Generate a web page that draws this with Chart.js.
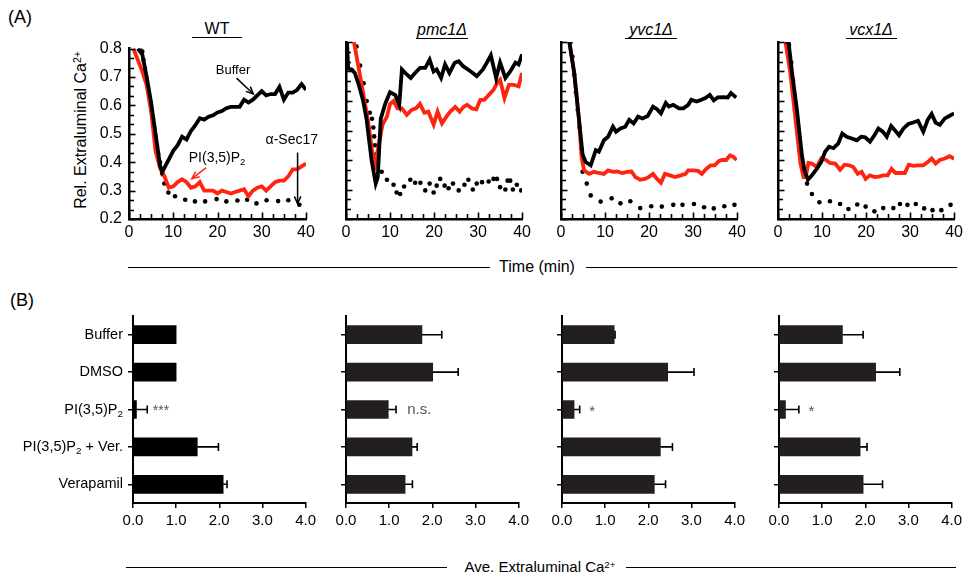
<!DOCTYPE html>
<html><head><meta charset="utf-8">
<script src="https://cdn.jsdelivr.net/npm/chart.js@4.4.0/dist/chart.umd.min.js"></script>
<style>
body{margin:0;background:#fff;}
#wrap{position:relative;width:967px;height:583px;overflow:hidden;font-family:"Liberation Sans",Arial,sans-serif;color:#000;background:#fff;}
canvas{position:absolute;}
.t{position:absolute;white-space:nowrap;line-height:1;}
.hl{position:absolute;height:0;border-top:1.5px solid #000;}
sup{font-size:0.65em;vertical-align:0.45em;line-height:0;}
</style></head><body><div id="wrap">
<div class="t" style="left:8px;top:8px;font-size:18px;">(A)</div>
<div class="t" style="left:10px;top:291px;font-size:18px;">(B)</div>
<div class="t" style="left:81px;top:130px;font-size:16px;transform:translate(-50%,-50%) rotate(-90deg);">Rel. Extraluminal Ca<sup>2+</sup></div>
<div class="t" style="left:217px;top:21px;font-size:16px;transform:translateX(-50%);">WT</div>
<div class="hl" style="left:192px;top:37px;width:50px;"></div>
<div class="t" style="left:442px;top:22px;font-size:16px;font-style:italic;transform:translateX(-50%);">pmc1Δ</div>
<div class="hl" style="left:416px;top:38px;width:52px;"></div>
<div class="t" style="left:651px;top:22px;font-size:16px;font-style:italic;transform:translateX(-50%);">yvc1Δ</div>
<div class="hl" style="left:625px;top:38px;width:52px;"></div>
<div class="t" style="left:871px;top:22px;font-size:16px;font-style:italic;transform:translateX(-50%);">vcx1Δ</div>
<div class="hl" style="left:846px;top:38px;width:51px;"></div>
<div class="hl" style="left:128px;top:267px;width:362px;border-top-width:1px;"></div>
<div class="t" style="left:537px;top:259px;font-size:16px;transform:translateX(-50%);">Time (min)</div>
<div class="hl" style="left:586px;top:267px;width:371px;border-top-width:1px;"></div>
<div class="hl" style="left:126px;top:567px;width:321px;border-top-width:1px;"></div>
<div class="t" style="left:540px;top:559px;font-size:15px;transform:translateX(-50%);">Ave. Extraluminal Ca<sup>2+</sup></div>
<div class="hl" style="left:626px;top:567px;width:330px;border-top-width:1px;"></div>
</div>
<script>
// ---------------- DATA ----------------
// (A) time courses: times (min) and relative extraluminal Ca2+
const wtBufferT = [2,3,4,5,6,7,7.5,8,9,10,11,12,13,14,15,16,17,18,19,20,21,22,23,24,25,26,27,28,29,30,31,32,33,34,35,36,37,38,39,40];
const wtBufferV = [0.80,0.78,0.70,0.61,0.50,0.39,0.365,0.38,0.41,0.44,0.46,0.49,0.48,0.51,0.53,0.555,0.55,0.56,0.565,0.575,0.58,0.59,0.595,0.595,0.595,0.62,0.61,0.62,0.635,0.65,0.635,0.64,0.64,0.665,0.62,0.645,0.645,0.655,0.675,0.655];
const wtPIT = [1,2,3,4,5,6,7,8,9,10,11,12,13,14,15,16,17,18,19,20,21,22,23,24,25,26,27,28,29,30,31,32,33,34,35,36,37,38,39,40];
const wtPIV = [0.80,0.76,0.72,0.67,0.58,0.44,0.38,0.35,0.31,0.315,0.33,0.34,0.33,0.31,0.315,0.33,0.30,0.30,0.30,0.29,0.30,0.295,0.29,0.295,0.30,0.305,0.28,0.30,0.31,0.315,0.30,0.315,0.33,0.335,0.335,0.35,0.375,0.375,0.385,0.395];
const wtSecT = [2.5,3.0,3.3,3.6,3.9,4.2,4.5,4.8,5.1,5.4,5.7,6.0,6.3,6.6,7.0,7.5,8.0,8.9,10.4,12.7,14.9,17.2,19.8,22.0,24.5,26.7,28.8,31.1,33.7,36.0,38.5];
const wtSecV = [0.80,0.79,0.76,0.73,0.70,0.67,0.64,0.61,0.58,0.55,0.52,0.49,0.46,0.43,0.40,0.36,0.325,0.293,0.28,0.268,0.262,0.262,0.27,0.262,0.265,0.268,0.255,0.266,0.263,0.266,0.25];

const pmcBufferT = [0.2,0.5,1.3,2,2.8,3.9,4.7,5.8,6.75,7.2,7.9,8.9,10,11.2,12.1,12.7,13.8,14.7,15.7,16.8,18,19,19.9,20.6,21.6,22.5,23.5,24.7,25.6,26.6,27.7,28.8,29.7,31.1,32,32.9,34.1,35,36.2,37.3,38.5,39.2,40];
const pmcBufferV = [0.81,0.71,0.707,0.695,0.66,0.60,0.535,0.40,0.32,0.34,0.54,0.59,0.63,0.62,0.587,0.707,0.69,0.678,0.695,0.712,0.712,0.74,0.70,0.707,0.678,0.724,0.695,0.73,0.735,0.718,0.707,0.695,0.684,0.707,0.73,0.755,0.678,0.73,0.678,0.70,0.73,0.724,0.758];
const pmcPIT = [1.8,2.8,3.9,5.1,6.2,6.6,8.3,9.3,10,10.8,11.7,12.7,13.8,14.9,15.9,16.8,17.8,18.7,19.9,20.8,21.8,22.8,23.7,24.8,25.8,26.7,27.5,28.6,29.6,30.5,31.4,32.4,33.5,34.3,35,36,37,38.1,39.2,40];
const pmcPIV = [0.80,0.718,0.627,0.524,0.40,0.385,0.52,0.547,0.59,0.60,0.575,0.575,0.553,0.57,0.575,0.59,0.56,0.564,0.52,0.564,0.524,0.547,0.564,0.58,0.564,0.58,0.587,0.575,0.572,0.604,0.604,0.62,0.638,0.66,0.672,0.61,0.655,0.655,0.65,0.695];
const pmcSecT = [2.4,3.2,4.0,4.7,5.4,5.9,6.2,6.4,6.6,6.9,7.2,8.1,9.3,10.8,11.5,12.3,13.2,14.6,15.7,16.9,18.0,19.0,19.9,20.6,21.4,22.4,23.3,24.3,25.6,26.9,27.8,28.8,29.7,30.9,32.4,33.5,34.3,35.0,36.2,36.7,37.3,37.9,38.8,39.8];
const pmcSecV = [0.785,0.72,0.66,0.60,0.56,0.54,0.51,0.48,0.45,0.42,0.388,0.36,0.333,0.316,0.29,0.285,0.31,0.333,0.323,0.323,0.297,0.32,0.29,0.313,0.336,0.313,0.304,0.32,0.297,0.316,0.333,0.30,0.32,0.325,0.327,0.336,0.336,0.308,0.30,0.33,0.33,0.30,0.316,0.297];

const yvcBufferT = [1.9,3,4.1,4.9,5.6,6.75,7.9,8.6,9.75,10.7,11.8,12.5,13.5,14.6,15.5,16.5,17.5,18.5,19.7,20.9,21.8,22.7,23.8,24.5,25.5,26.8,27.8,28.9,29.6,30.8,31.9,32.8,33.8,34.7,35.6,36.8,37.9,38.6,39.8];
const yvcBufferV = [0.80,0.695,0.535,0.42,0.393,0.382,0.433,0.428,0.467,0.479,0.513,0.496,0.507,0.513,0.536,0.524,0.547,0.541,0.549,0.581,0.572,0.558,0.593,0.581,0.587,0.575,0.575,0.587,0.604,0.598,0.604,0.61,0.621,0.602,0.612,0.613,0.612,0.627,0.612];
const yvcPIT = [1.9,3,4.1,4.7,5.25,6.4,7.5,8.6,9.75,10.7,11.8,12.75,13.9,15,16,16.9,18,19,19.9,20.9,21.8,22.7,23.6,24.75,25.9,27.2,28.3,28.9,30,31.1,32,33,34,34.9,35.9,36.6,37.5,38.4,39.2,39.9];
const yvcPIV = [0.80,0.695,0.535,0.405,0.365,0.353,0.36,0.356,0.353,0.365,0.36,0.361,0.356,0.36,0.361,0.342,0.333,0.336,0.342,0.353,0.336,0.323,0.353,0.348,0.342,0.348,0.353,0.365,0.365,0.363,0.353,0.37,0.382,0.382,0.397,0.40,0.40,0.416,0.41,0.40];
const yvcSecT = [2.2,2.6,3.0,3.4,3.8,4.2,4.6,4.9,5.85,6.75,9.0,11.5,13.5,15.75,18.0,20.5,22.9,25.5,27.6,30.2,32.5,34.7,37.1,39.4];
const yvcSecV = [0.80,0.75,0.69,0.63,0.57,0.51,0.44,0.36,0.32,0.28,0.259,0.27,0.253,0.26,0.237,0.243,0.242,0.248,0.248,0.251,0.24,0.236,0.243,0.248];

const vcxBufferT = [1.7,2.4,3.2,4.3,5.4,6,6.8,7.7,8.8,9.8,10.7,11.6,12.6,13.7,14.6,15.6,16.75,17.9,18.9,19.8,20.9,21.9,22.8,23.8,24.7,25.7,26.6,27.5,28.5,29.6,30.7,31.8,33,34,34.9,35.8,36.75,37.9,38.9,40];
const vcxBufferV = [0.80,0.80,0.695,0.57,0.42,0.365,0.333,0.348,0.37,0.393,0.428,0.445,0.44,0.456,0.49,0.479,0.473,0.467,0.479,0.477,0.462,0.484,0.507,0.496,0.479,0.515,0.50,0.484,0.507,0.522,0.527,0.533,0.496,0.536,0.556,0.527,0.519,0.541,0.549,0.558];
const vcxPIT = [1.7,2.8,3.9,5.1,5.8,6.3,6.9,7.7,8.8,9.8,10.9,11.8,13,14.1,15.1,16.2,17.1,18.1,19,19.9,20.9,21.9,22.9,23.9,24.9,25.8,26.7,27.9,28.8,29.7,30.7,31.8,33,34,34.9,35.8,36.75,37.9,39,40];
const vcxPIV = [0.80,0.695,0.547,0.388,0.342,0.342,0.39,0.388,0.376,0.405,0.40,0.39,0.388,0.367,0.384,0.382,0.376,0.353,0.36,0.336,0.348,0.342,0.344,0.348,0.348,0.37,0.356,0.356,0.356,0.384,0.38,0.382,0.382,0.393,0.405,0.388,0.40,0.405,0.413,0.404];
const vcxSecT = [2.5,3.0,3.4,3.8,4.2,4.6,5.0,5.5,6.6,7.7,9.4,11.8,14.1,16.0,18.0,19.9,21.9,23.9,26.2,27.7,29.4,31.3,33.2,35.1,37.1,39.2];
const vcxSecV = [0.79,0.73,0.67,0.61,0.55,0.49,0.43,0.38,0.32,0.285,0.257,0.26,0.251,0.234,0.249,0.242,0.226,0.237,0.237,0.251,0.248,0.251,0.236,0.23,0.23,0.248];

const timeTicks = [0,10,20,30,40];
const relTicks = [0.2,0.3,0.4,0.5,0.6,0.7,0.8];

// (B) averages
const barCats = ['Buffer','DMSO','PI(3,5)P_2','PI(3,5)P_2 + Ver.','Verapamil'];
const aveTicks = [0,1,2,3,4];
const wtMean  = [1.00, 1.00, 0.08, 1.49, 2.09];
const wtErr   = [0, 0, 0.25, 0.49, 0.09];
const pmcMean = [1.76, 2.01, 0.98, 1.53, 1.37];
const pmcErr  = [0.46, 0.59, 0.18, 0.12, 0.17];
const yvcMean = [1.21, 2.45, 0.28, 2.28, 2.14];
const yvcErr  = [0.02, 0.61, 0.13, 0.28, 0.26];
const vcxMean = [1.47, 2.24, 0.15, 1.88, 1.95];
const vcxErr  = [0.48, 0.56, 0.31, 0.16, 0.45];
const sigMarks = ['***','n.s.','*','*'];

// ---------------- DRAWING ----------------
const FONT = '"Liberation Sans", Arial, sans-serif';
Chart.defaults.font.family = FONT;
Chart.defaults.color = '#000';
const RED = '#ff2410';
const wrap = document.getElementById('wrap');

function richParts(s){
  const out=[]; const re=/_(\w)/g; let last=0, m;
  while((m=re.exec(s))){ if(m.index>last) out.push({t:s.slice(last,m.index)}); out.push({t:m[1],sub:true}); last=re.lastIndex; }
  if(last<s.length) out.push({t:s.slice(last)});
  return out;
}
function drawRich(ctx, s, x, y, align, size, color){
  const parts=richParts(s); ctx.save(); ctx.fillStyle=color||'#000'; ctx.textBaseline='middle'; ctx.textAlign='left';
  const f=n=>n+'px '+FONT;
  let w=0; parts.forEach(p=>{ctx.font=f(p.sub?size*0.68:size); p.w=ctx.measureText(p.t).width; w+=p.w;});
  let cx = align==='right'? x-w : align==='center'? x-w/2 : x;
  parts.forEach(p=>{ctx.font=f(p.sub?size*0.68:size); ctx.fillText(p.t,cx,p.sub?y+size*0.32:y); cx+=p.w;});
  ctx.restore();
}
function arrow(ctx, x0,y0,x1,y1,color){
  ctx.save(); ctx.strokeStyle=color; ctx.lineWidth=1.5;
  ctx.beginPath(); ctx.moveTo(x0,y0); ctx.lineTo(x1,y1); ctx.stroke();
  const a=Math.atan2(y1-y0,x1-x0), L=8, W=0.42;
  ctx.beginPath(); ctx.moveTo(x1-L*Math.cos(a-W), y1-L*Math.sin(a-W)); ctx.lineTo(x1,y1);
  ctx.lineTo(x1-L*Math.cos(a+W), y1-L*Math.sin(a+W)); ctx.stroke();
  ctx.restore();
}
function mkCanvas(left, top, w, h){
  const c=document.createElement('canvas'); c.width=w; c.height=h;
  c.style.left=left+'px'; c.style.top=top+'px'; c.style.width=w+'px'; c.style.height=h+'px';
  wrap.appendChild(c); return c.getContext('2d');
}
function zip(t,v){ return t.map((x,i)=>({x:x,y:v[i]})); }

const innerTicks = {
  id:'innerTicks',
  afterDraw(chart){
    const {ctx, chartArea:a, scales:{x,y}} = chart;
    ctx.save(); ctx.strokeStyle='#000'; ctx.lineWidth=1.6;
    const yMin=relTicks[0], yMax=relTicks[relTicks.length-1];
    for(let k=0;k<=18;k++){ const v=yMin+(yMax-yMin)*k/18; const py=Math.round(y.getPixelForValue(v))+0.5;
      ctx.beginPath(); ctx.moveTo(a.left, py); ctx.lineTo(a.left+(k%3===0?6.5:5), py); ctx.stroke(); }
    const xMin=timeTicks[0], xMax=timeTicks[timeTicks.length-1];
    for(let k=0;k<=16;k++){ const v=xMin+(xMax-xMin)*k/16; const px=Math.round(x.getPixelForValue(v))+0.5;
      ctx.beginPath(); ctx.moveTo(px, a.bottom); ctx.lineTo(px, a.bottom-(k%4===0?6.5:5)); ctx.stroke(); }
    ctx.restore();
  }
};
const wtAnno = {
  id:'wtAnno',
  afterDraw(chart, args, o){
    if(!o.on) return;
    const {ctx, scales:{x,y}} = chart;
    const P=(t,v)=>[x.getPixelForValue(t), y.getPixelForValue(v)];
    ctx.save(); ctx.fillStyle='#000'; ctx.font='13px '+FONT; ctx.textAlign='center'; ctx.textBaseline='middle';
    let p=P(23.5,0.724); ctx.fillText('Buffer',p[0],p[1]);
    let a=P(24.3,0.696), b=P(28.1,0.640); arrow(ctx,a[0],a[1],b[0],b[1],'#000');
    p=P(36.8,0.476); ctx.font='14px '+FONT; ctx.fillText('α-Sec17',p[0],p[1]);
    a=P(38.1,0.434); b=P(38.1,0.254); arrow(ctx,a[0],a[1],b[0],b[1],'#000');
    ctx.restore();
    p=P(19.9,0.414); drawRich(ctx,'PI(3,5)P_2',p[0],p[1],'center',14,'#000');
    a=P(17.4,0.380); b=P(14.2,0.342); arrow(ctx,a[0],a[1],b[0],b[1],RED);
  }
};

const PT=42, PH=177, PW=177;
const topPanels = [
  {left:129, b:[wtBufferT,wtBufferV], r:[wtPIT,wtPIV], d:[wtSecT,wtSecV], labels:true, anno:true},
  {left:346, b:[pmcBufferT,pmcBufferV], r:[pmcPIT,pmcPIV], d:[pmcSecT,pmcSecV]},
  {left:561, b:[yvcBufferT,yvcBufferV], r:[yvcPIT,yvcPIV], d:[yvcSecT,yvcSecV]},
  {left:778, b:[vcxBufferT,vcxBufferV], r:[vcxPIT,vcxPIV], d:[vcxSecT,vcxSecV]}
];
topPanels.forEach(pn=>{
  const YW=50, PADT=10, XH=28, PADR=pn.anno?18:12;
  const ctx=mkCanvas(pn.left-YW, PT-PADT, YW+PW+PADR, PADT+PH+XH);
  new Chart(ctx,{
    type:'line',
    data:{datasets:[
      {data:zip(pn.b[0],pn.b[1]), borderColor:'#000', borderWidth:3.8, pointRadius:0, tension:0},
      {data:zip(pn.r[0],pn.r[1]), borderColor:RED, borderWidth:3.8, pointRadius:0, tension:0},
      {data:zip(pn.d[0],pn.d[1]), showLine:false, pointRadius:2.3, pointBackgroundColor:'#000', pointBorderWidth:0, borderColor:'#000'}
    ]},
    options:{
      responsive:false, animation:false, events:[],
      layout:{padding:{top:PADT,right:PADR,left:0,bottom:0}},
      plugins:{legend:{display:false},tooltip:{enabled:false},wtAnno:{on:!!pn.anno}},
      scales:{
        x:{type:'linear', min:timeTicks[0], max:timeTicks[timeTicks.length-1],
           ticks:{stepSize:10, font:{size:16}, color:'#000', padding:4, maxRotation:0},
           grid:{display:false, drawTicks:false}, border:{display:true,color:'#000',width:2.5},
           afterFit(s){s.height=XH;}},
        y:{type:'linear', min:relTicks[0], max:relTicks[relTicks.length-1],
           ticks:{stepSize:0.1, font:{size:16}, color:'#000', padding:7, display:!!pn.labels},
           grid:{display:false, drawTicks:false}, border:{display:true,color:'#000',width:2.5},
           afterFit(s){s.width=YW;}}
      }
    },
    plugins:[innerTicks, wtAnno]
  });
});

const errBars = {
  id:'errBars',
  afterDatasetsDraw(chart, args, o){
    const {ctx, scales:{x}} = chart; const meta=chart.getDatasetMeta(0);
    const vals=chart.data.datasets[0].data;
    ctx.save(); ctx.strokeStyle='#000'; ctx.lineWidth=1.6;
    meta.data.forEach((el,i)=>{
      const e=o.err[i]; if(!e) return;
      const x0=x.getPixelForValue(vals[i]), x1=x.getPixelForValue(vals[i]+e), yy=el.y;
      ctx.beginPath(); ctx.moveTo(x0,yy); ctx.lineTo(x1,yy); ctx.moveTo(x1,yy-4); ctx.lineTo(x1,yy+4); ctx.stroke();
    });
    ctx.restore();
  },
  afterDraw(chart, args, o){
    const {ctx, chartArea:a, scales:{x,y}} = chart;
    if(o.cats){ barCats.forEach((c,i)=>{ drawRich(ctx,c,a.left-10,y.getPixelForTick(i),'right',14.5,'#000'); }); }
    if(o.sig){
      ctx.save(); ctx.fillStyle='#555'; ctx.textBaseline='middle';
      ctx.font=(o.sig.size)+'px '+FONT; ctx.textAlign=o.sig.align;
      ctx.fillText(o.sig.text, x.getPixelForValue(o.sig.at), y.getPixelForTick(2)+(o.sig.dy||0));
      ctx.restore();
    }
  }
};
const BT=316, BH=187, BW=173;
const botPanels = [
  {left:133, m:wtMean, e:wtErr, color:'#000', cats:true, sig:{text:sigMarks[0], at:0.46, align:'left', size:14, dy:2}},
  {left:346, m:pmcMean, e:pmcErr, color:'#231f20', sig:{text:sigMarks[1], at:1.42, align:'left', size:15}},
  {left:562, m:yvcMean, e:yvcErr, color:'#231f20', sig:{text:sigMarks[2], at:0.70, align:'center', size:15, dy:2}},
  {left:779, m:vcxMean, e:vcxErr, color:'#231f20', sig:{text:sigMarks[3], at:0.75, align:'center', size:15, dy:2}}
];
botPanels.forEach(pn=>{
  const YW = pn.cats? pn.left : 20, PADT=2, XH=32, PADR=14;
  const ctx=mkCanvas(pn.left-YW, BT-PADT, YW+BW+PADR, PADT+BH+XH);
  new Chart(ctx,{
    type:'bar',
    data:{labels:barCats, datasets:[{data:pn.m, backgroundColor:pn.color, barThickness:18, borderWidth:0}]},
    options:{
      indexAxis:'y', responsive:false, animation:false, events:[],
      layout:{padding:{top:PADT,right:PADR,left:0,bottom:0}},
      plugins:{legend:{display:false},tooltip:{enabled:false},errBars:{err:pn.e, cats:!!pn.cats, sig:pn.sig}},
      scales:{
        x:{type:'linear', min:aveTicks[0], max:aveTicks[aveTicks.length-1],
           ticks:{stepSize:1, font:{size:15}, color:'#000', padding:4, maxRotation:0, callback:v=>Number(v).toFixed(1)},
           grid:{display:true, drawOnChartArea:false, drawTicks:true, tickLength:5, color:'#000', lineWidth:1.5},
           border:{display:true,color:'#000',width:2},
           afterFit(s){s.height=XH;}},
        y:{ticks:{display:false},
           grid:{display:true, offset:false, drawOnChartArea:false, drawTicks:true, tickLength:5, color:'#000', lineWidth:1.5},
           border:{display:true,color:'#000',width:2},
           afterFit(s){s.width=YW;}}
      }
    },
    plugins:[errBars]
  });
});
</script></body></html>
